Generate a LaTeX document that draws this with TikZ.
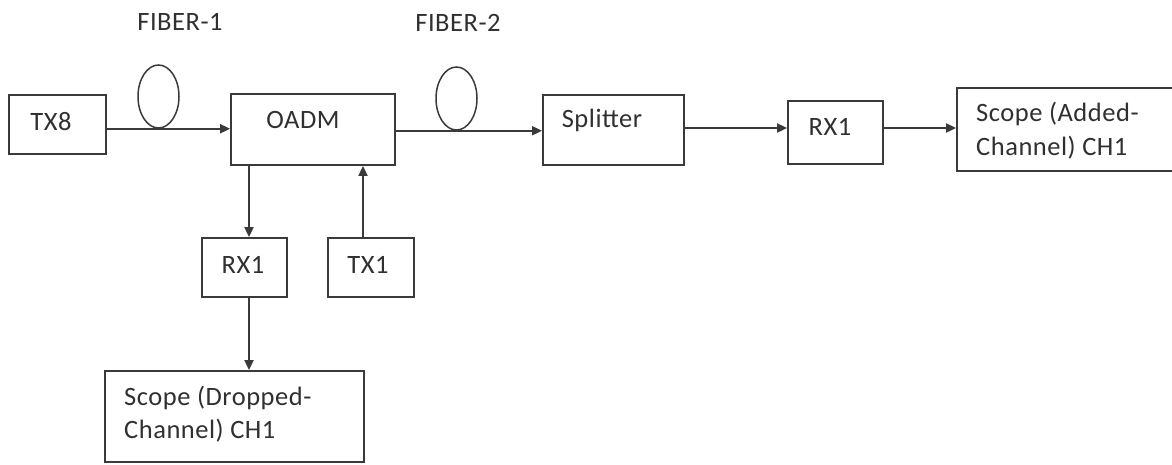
\documentclass[tikz,border=0pt]{standalone}
\usepackage{fontspec}
\setmainfont{Carlito}[LetterSpace=2]
\usetikzlibrary{arrows.meta,shapes.geometric}
\definecolor{ln}{HTML}{3A3A3A}
\definecolor{tx}{HTML}{303030}
\tikzset{
  blk/.style={draw=ln, line width=1.8pt, fill=white, inner sep=0pt, text width=0pt},
  fib/.style={draw=ln, line width=1.5pt, ellipse, inner sep=0pt, minimum width=41pt, minimum height=63pt},
  lbl/.style={inner sep=0pt, text=tx, font=\fontsize{26.5}{34}\selectfont},
  arr/.style={draw=ln, line width=1.8pt, -{Triangle[length=10pt,width=9pt]}},
}
\begin{document}
\begin{tikzpicture}[x=1pt,y=-1pt]
\clip (0,0) rectangle (1172,464);
\useasboundingbox (0,0) rectangle (1172,464);
% boxes
\node[blk, minimum width=97pt, minimum height=59pt] (tx8) at (57.5,124.5) {};
\node[blk, minimum width=164pt, minimum height=71pt] (oadm) at (313,129.5) {};
\node[blk, minimum width=141pt, minimum height=70pt] (split) at (613.5,130) {};
\node[blk, minimum width=95pt, minimum height=63pt] (rxa) at (835.5,132.5) {};
\node[blk, minimum width=218pt, minimum height=83pt] (scopea) at (1066,129.5) {};
\node[blk, minimum width=85pt, minimum height=59pt] (rxd) at (244.5,267.5) {};
\node[blk, minimum width=86pt, minimum height=59pt] (tx1) at (371,267.5) {};
\node[blk, minimum width=259pt, minimum height=91pt] (scoped) at (234.5,416.5) {};
% fibers
\node[fib] (fib1) at (158.5,96.5) {};
\node[fib] (fib2) at (456.5,98.5) {};
% helper coordinates
\coordinate (row) at (0,128);
\coordinate (cd) at (249,0);
\coordinate (cu) at (363,0);
% labels
\node[lbl, anchor=base] (l1) at (180,30) {FIBER-1};
\node[lbl, anchor=base] (l2) at (458,31) {FIBER-2};
\node[lbl, anchor=base] (t1) at (51,130) {TX8};
\node[lbl, anchor=base] (t2) at (303,128) {OADM};
\node[lbl, anchor=base] (t3) at (602,127) {Splitter};
\node[lbl, anchor=base] (t4) at (830,135) {RX1};
\node[lbl, anchor=base] (t5) at (243,273) {RX1};
\node[lbl, anchor=base] (t6) at (368,273) {TX1};
\node[lbl, anchor=base west] (t7) at (976,121) {Scope (Added-};
\node[lbl, anchor=base west] (t8) at (976,155) {Channel) CH1};
\node[lbl, anchor=base west] (t9) at (124,405) {Scope (Dropped-};
\node[lbl, anchor=base west] (t10) at (124,438) {Channel) CH1};
% connectors
\draw[arr] (tx8.east |- fib1.south) -- (oadm.west |- fib1.south);
\draw[arr] (oadm.east |- fib2.south) -- (split.west |- fib2.south);
\draw[arr] (split.east |- row) -- (rxa.west |- row);
\draw[arr] (rxa.east |- row) -- (scopea.west |- row);
\draw[arr] (oadm.south -| cd) -- (rxd.north -| cd);
\draw[arr] (tx1.north -| cu) -- (oadm.south -| cu);
\draw[arr] (rxd.south -| cd) -- (scoped.north -| cd);
\end{tikzpicture}
\end{document}
